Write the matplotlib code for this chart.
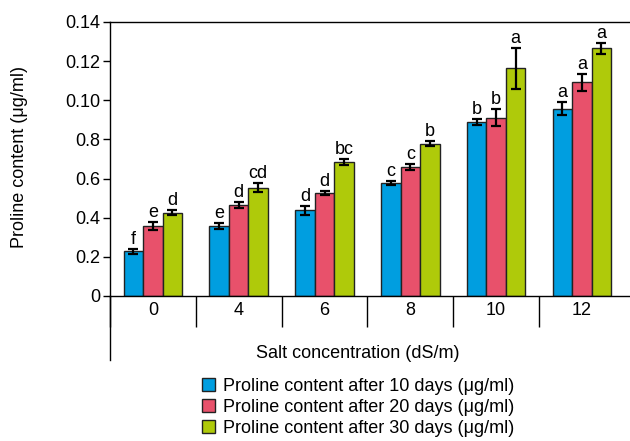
import matplotlib
matplotlib.use("Agg")
import matplotlib.pyplot as plt
from matplotlib.patches import Patch
from matplotlib.lines import Line2D
import numpy as np

plt.rcParams['font.family'] = ['Liberation Sans', 'DejaVu Sans']

categories = ["0", "4", "6", "8", "10", "12"]
series_labels = ["Proline content after 10 days (\u03bcg/ml)",
                 "Proline content after 20 days (\u03bcg/ml)",
                 "Proline content after 30 days (\u03bcg/ml)"]
day10 = [0.0228, 0.0357, 0.0437, 0.0577, 0.0889, 0.0958]
day20 = [0.0357, 0.0464, 0.0528, 0.0659, 0.0912, 0.1091]
day30 = [0.0425, 0.0553, 0.0684, 0.0778, 0.1163, 0.1265]
err10 = [0.0013, 0.0015, 0.0023, 0.0010, 0.0013, 0.0032]
err20 = [0.0022, 0.0014, 0.0010, 0.0015, 0.0043, 0.0043]
err30 = [0.0013, 0.0023, 0.0015, 0.0014, 0.0103, 0.0026]
letters10 = ["f", "e", "d", "c", "b", "a"]
letters20 = ["e", "d", "d", "c", "b", "a"]
letters30 = ["d", "cd", "bc", "b", "a", "a"]
ytick_vals = [0, 0.02, 0.04, 0.06, 0.08, 0.10, 0.12, 0.14]
ytick_labels = ["0", "0.2", "0.4", "0.6", "0.8", "0.10", "0.12", "0.14"]
colors = ["#009EE0", "#E8516B", "#AFCA0A"]

fig = plt.figure(figsize=(6.3, 4.41), dpi=100)
ax = fig.add_axes([110/630, 1-296/441, 520/630, (296-22)/441])

x = np.arange(len(categories))
w = 0.227
series = [(day10, err10, letters10), (day20, err20, letters20), (day30, err30, letters30)]
for i, (vals, errs, lets) in enumerate(series):
    pos = x + (i-1)*w
    ax.bar(pos, vals, width=w, color=colors[i], edgecolor="#222222", linewidth=1.0, zorder=2)
    ax.errorbar(pos, vals, yerr=errs, fmt="none", ecolor="black", elinewidth=1.6,
                capsize=3.5, capthick=1.6, zorder=3)
    for p, v, e, l in zip(pos, vals, errs, lets):
        ax.text(p, v+e+0.0006, l, ha="center", va="bottom", fontsize=13)

ax.set_xlim(-0.5, -0.5 + 520/85.8)
ax.set_ylim(0, 0.14)
ax.set_yticks(ytick_vals)
ax.set_yticklabels(ytick_labels, fontsize=13)
ax.tick_params(axis="y", length=5, width=1, pad=2)
ax.set_xticks(x)
ax.set_xticklabels(categories, fontsize=13)
ax.tick_params(axis="x", which="major", length=0, pad=4)
ax.set_xticks(np.arange(-0.5, 5.0, 1.0), minor=True)
ax.tick_params(axis="x", which="minor", length=22, width=1)
ax.spines["right"].set_visible(False)
for s in ["left", "top", "bottom"]:
    ax.spines[s].set_linewidth(1.0)

# extended left boundary line
ax.add_line(Line2D([-0.5, -0.5], [0, -64/274], transform=ax.get_xaxis_transform(),
                   color="black", linewidth=1.0, clip_on=False))

fig.text(20/630, 1-157/441, "Proline content (\u03bcg/ml)", rotation=90,
         ha="center", va="center", fontsize=13)
fig.text(358/630, 1-353/441, "Salt concentration (dS/m)", ha="center", va="center", fontsize=13)

handles = [Patch(facecolor=c, edgecolor="#222222", linewidth=1.0) for c in colors]
fig.legend(handles, series_labels, loc="upper left", bbox_to_anchor=(202/630, 1-378/441),
           frameon=False, fontsize=13, handlelength=0.7, handleheight=0.7,
           handletextpad=0.45, labelspacing=0.22, borderpad=0, borderaxespad=0)

fig.savefig("out.png", dpi=100)
